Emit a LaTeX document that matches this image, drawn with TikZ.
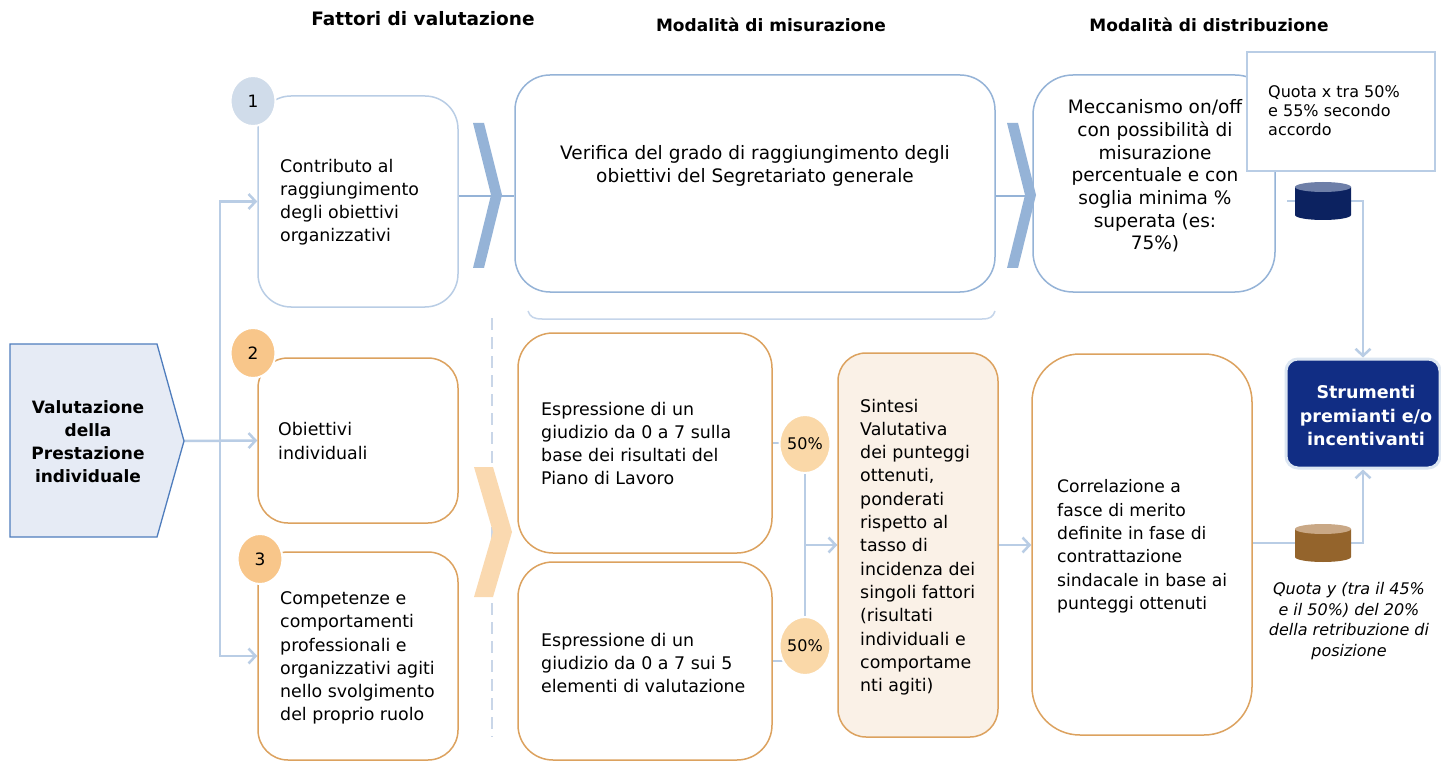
\documentclass[tikz,border=0pt]{standalone}
\usepackage{fontspec}
\setmainfont{DejaVu Sans}
\usetikzlibrary{arrows.meta,shapes.geometric}
\definecolor{cLB}{HTML}{B9CDE5}
\definecolor{cMB}{HTML}{95B3D7}
\definecolor{cOr}{HTML}{DCA25F}
\definecolor{cCirO}{HTML}{F8C68A}
\definecolor{cCirL}{HTML}{FAD8A8}
\definecolor{cCirB}{HTML}{D0DCEA}
\definecolor{cChevO}{HTML}{FAD9B0}
\definecolor{cPentF}{HTML}{E6EBF5}
\definecolor{cPentD}{HTML}{4F7DBD}
\definecolor{cNavy}{HTML}{112D84}
\definecolor{cCylN}{HTML}{0C2260}
\definecolor{cCylNt}{HTML}{6E7FA8}
\definecolor{cCylB}{HTML}{94642C}
\definecolor{cCylBt}{HTML}{C9A886}
\definecolor{cSint}{HTML}{FAF1E7}
\definecolor{cDash}{HTML}{C9D6E8}
\definecolor{cThin}{HTML}{C5D5EA}
\definecolor{cStrB}{HTML}{DCE6F2}
\pgfdeclarelayer{bg}
\pgfsetlayers{bg,main}
\tikzset{
  hdr/.style={inner sep=0pt, font=\fontsize{17}{21}\selectfont\bfseries},
  bbox/.style={rectangle, draw, line width=1.5pt, fill=white, inner sep=0pt},
  txt/.style={inner sep=0pt, align=left, anchor=west, font=\fontsize{17.4}{23.2}\selectfont},
  numc/.style={ellipse, draw=white, line width=2pt, inner sep=0pt, minimum width=45pt, minimum height=50pt, font=\fontsize{17}{20}\selectfont},
  pctc/.style={ellipse, draw=white, line width=2pt, fill=cCirL, inner sep=0pt, minimum width=51pt, minimum height=58pt, font=\fontsize{16}{20}\selectfont},
  conn/.style={draw=cLB, line width=2.5pt},
  mline/.style={draw=cMB, line width=2pt},
  arr/.style={-{Straight Barb[length=7pt,width=15pt]}},
  chevB/.style={fill=cMB},
  chevO/.style={fill=cChevO},
  cylpt/.style={inner sep=0pt, minimum width=56pt, minimum height=38pt}
}
\begin{document}
\begin{tikzpicture}[x=1pt,y=-1pt]
\useasboundingbox (0,0) rectangle (1441,762);
\begin{pgfonlayer}{bg}
\fill[white] (0,0) rectangle (1441,762);
\end{pgfonlayer}

% headers
\node[hdr, font=\fontsize{18.5}{22}\selectfont\bfseries] (h1) at (423,19) {Fattori di valutazione};
\node[hdr] (h2) at (771,25) {Modalità di misurazione};
\node[hdr] (h3) at (1209,25) {Modalità di distribuzione};

% pentagon
\draw[fill=cPentF, draw=cPentD, line width=1.3pt] (10,344) -- (157,344) -- (184,441) -- (157,537) -- (10,537) -- cycle;
\coordinate (valtip) at (184,441);
\node[inner sep=0pt, align=center, font=\fontsize{17}{23}\selectfont\bfseries] (val) at (88,441.5) {Valutazione\\della\\Prestazione\\individuale};

% factor boxes
\node[bbox, draw=cLB, rounded corners=33pt, minimum width=200pt, minimum height=211pt] (b1) at (358,201.5) {};
\node[bbox, draw=cOr, rounded corners=30pt, minimum width=200pt, minimum height=165pt] (b2) at (358,440.5) {};
\node[bbox, draw=cOr, rounded corners=30pt, minimum width=200pt, minimum height=208pt] (b3) at (358,656) {};
\node[txt] (b1t) at (280,202) {Contributo al\\raggiungimento\\degli obiettivi\\organizzativi};
\node[txt] (b2t) at (278,441) {Obiettivi\\individuali};
\node[txt] (b3t) at (280,658) {Competenze e\\comportamenti\\professionali e\\organizzativi agiti\\nello svolgimento\\del proprio ruolo};

% number circles
\node[numc, fill=cCirB] (n1) at (253,101) {1};
\node[numc, fill=cCirO] (n2) at (253,353) {2};
\node[numc, fill=cCirO] (n3) at (260,559) {3};

% measurement boxes
\node[bbox, draw=cMB, rounded corners=35pt, minimum width=480pt, minimum height=217pt] (ver) at (755,183.5) {};
\node[inner sep=0pt, align=center, font=\fontsize{18.5}{23}\selectfont] (vert) at (755,165.5) {Verifica del grado di raggiungimento degli\\obiettivi del Segretariato generale};
\draw[cThin, line width=1.5pt] (528,311) .. controls (530,317) and (534,319) .. (542,319) -- (982,319) .. controls (990,319) and (993,317) .. (995,311);

\node[bbox, draw=cOr, rounded corners=35pt, minimum width=254pt, minimum height=220pt] (e1) at (645,443) {};
\node[bbox, draw=cOr, rounded corners=35pt, minimum width=254pt, minimum height=198pt] (e2) at (645,661) {};
\node[txt] (e1t) at (541,443.5) {Espressione di un\\giudizio da 0 a 7 sulla\\base dei risultati del\\Piano di Lavoro};
\node[txt] (e2t) at (541,663) {Espressione di un\\giudizio da 0 a 7 sui 5\\elementi di valutazione};

\node[pctc] (p1) at (805,444) {50\%};
\node[pctc] (p2) at (805,646) {50\%};

\node[bbox, draw=cOr, fill=cSint, rounded corners=28pt, minimum width=160pt, minimum height=384pt] (sin) at (918,545) {};
\node[txt, font=\fontsize{17.4}{23.3}\selectfont] (sint) at (860,547) {Sintesi\\Valutativa\\dei punteggi\\ottenuti,\\ponderati\\rispetto al\\tasso di\\incidenza dei\\singoli fattori\\(risultati\\individuali e\\comportame\\nti agiti)};

% distribution boxes
\node[bbox, draw=cMB, rounded corners=40pt, minimum width=242pt, minimum height=217pt] (mec) at (1154,183.5) {};
\node[inner sep=0pt, align=center, font=\fontsize{18.5}{22.7}\selectfont] (mect) at (1155,176) {Meccanismo on/off\\con possibilità di\\misurazione\\percentuale e con\\soglia minima \%\\superata (es:\\75\%)};
\node[bbox, draw=cLB, line width=2pt, minimum width=188pt, minimum height=119pt] (qx) at (1341,111.5) {};
\node[txt, font=\fontsize{16}{19}\selectfont] (qxt) at (1268,111) {Quota x tra 50\%\\e 55\% secondo\\accordo};

\node[bbox, draw=cOr, rounded corners=48pt, minimum width=220pt, minimum height=381pt] (cor) at (1142,544.5) {};
\node[txt, font=\fontsize{17.2}{23.4}\selectfont] (cort) at (1057,546.5) {Correlazione a\\fasce di merito\\definite in fase di\\contrattazione\\sindacale in base ai\\punteggi ottenuti};

\node[rectangle, rounded corners=12pt, fill=cNavy, draw=cStrB, line width=3pt, minimum width=154pt, minimum height=109pt, inner sep=0pt] (strum) at (1363,413.5) {};
\node[inner sep=0pt, align=center, text=white, font=\fontsize{17.5}{23.5}\selectfont\bfseries] (strumt) at (1366,415.5) {Strumenti\\premianti e/o\\incentivanti};

\node[inner sep=0pt, align=center, font=\fontsize{16}{20.7}\selectfont\itshape] (qy) at (1349,621) {Quota y (tra il 45\%\\e il 50\%) del 20\%\\della retribuzione di\\posizione};

% cylinders
\node[cylpt] (cylA) at (1323,201) {};
\fill[cCylN] (1295,187) -- (1295,215) arc[start angle=180, end angle=0, x radius=28, y radius=5] -- (1351,187) -- cycle;
\fill[cCylNt] (1323,187) ellipse[x radius=28, y radius=5];
\node[cylpt] (cylB) at (1323,543) {};
\fill[cCylB] (1295,529) -- (1295,557) arc[start angle=180, end angle=0, x radius=28, y radius=5] -- (1351,529) -- cycle;
\fill[cCylBt] (1323,529) ellipse[x radius=28, y radius=5];

% chevrons
\fill[chevB] (473,123) -- (484,123) -- (502,195) -- (484,268) -- (473,268) -- (491,195) -- cycle;
\fill[chevB] (1007,123) -- (1018,123) -- (1036,195) -- (1018,268) -- (1007,268) -- (1025,195) -- cycle;
\fill[chevO] (474,467) -- (493,467) -- (512,532) -- (493,597) -- (474,597) -- (493,532) -- cycle;

% connectors
\coordinate (rowA) at (0,196);
\coordinate (trunk) at (220,441);
\coordinate (stubA) at (1287,201);
\begin{pgfonlayer}{bg}
\draw[conn,arr] (valtip) -- (b2.west);
\draw[conn,arr] (trunk) |- (b1.west);
\draw[conn,arr] (trunk) |- (b3.west);
\draw[mline] (b1.east |- rowA) -- (ver.west |- rowA);
\draw[mline] (ver.east |- rowA) -- (mec.west |- rowA);
\draw[conn] (stubA) -- (cylA.west);
\draw[conn,arr] (cylA.east) -| (strum.north);
\draw[conn] (cylB.west -| cor.east) -- (cylB.west);
\draw[conn,arr] (cylB.east) -| (strum.south);
\draw[conn] (e1.east) -- (e1.east -| p1.center);
\draw[conn] (e2.east) -- (e2.east -| p2.center);
\draw[conn,arr] (p1.south) |- (sin.west);
\draw[conn] (p2.north) |- (sin.west);
\draw[conn,arr] (sin.east) -- (sin.east -| cor.west);
\draw[draw=cDash, line width=2.5pt, dash pattern=on 12pt off 7pt] (492,318) -- (492,737);
\end{pgfonlayer}
\end{tikzpicture}
\end{document}
